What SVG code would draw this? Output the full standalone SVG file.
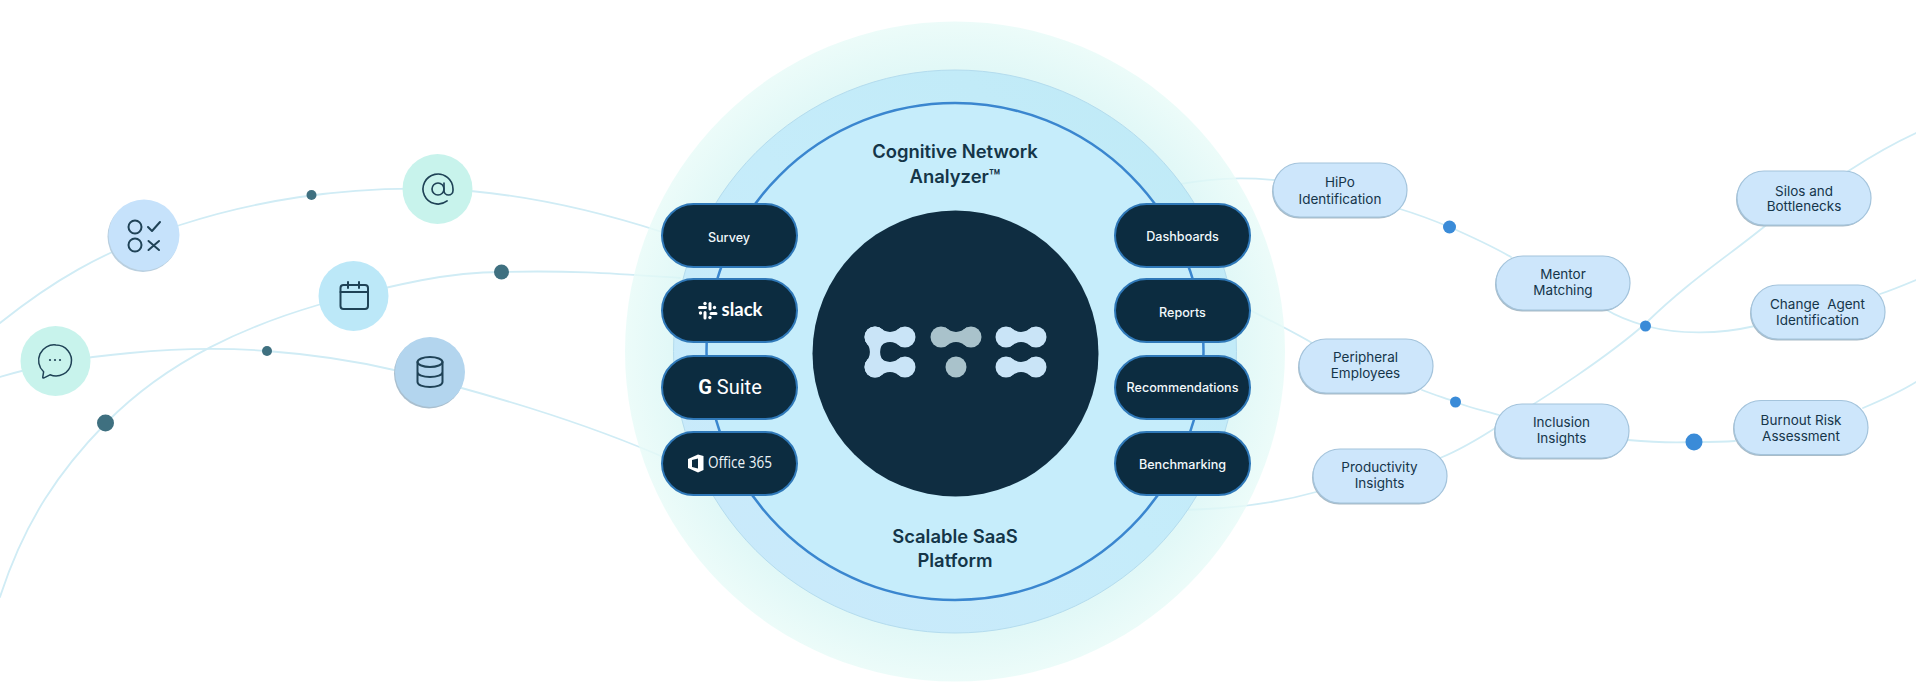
<svg xmlns="http://www.w3.org/2000/svg" width="1916" height="699" viewBox="0 0 1916 699">
<style>
text{font-family:"Inter","Liberation Sans",sans-serif;text-anchor:middle}
.c{fill:none;stroke:#d0ecf5;stroke-width:1.800;stroke-linecap:round}
.dk{fill:#3f7080}
.bl{fill:#3a8bd8}
.ic{fill:none;stroke:#1f4256;stroke-width:2;stroke-linecap:round;stroke-linejoin:round}
.p{fill:#0c2c40;stroke:#2f78b8;stroke-width:2}
.pt{fill:#f2f8fb;font-size:12.6px;font-weight:500}
.n{fill:#cde6fb;stroke:#a4c4dc;stroke-width:1.200}
.ns{fill:#a9bcc8}
.nt{fill:#15354a;font-size:13.500px}
.h{fill:#143548;font-size:18.400px;font-weight:600}
</style>
<defs>
<linearGradient id="mid" x1="0" y1="1" x2="1" y2="0"><stop offset="0" stop-color="#cbe9fb"/><stop offset=".5" stop-color="#c5ecfa"/><stop offset="1" stop-color="#bfeaf6"/></linearGradient>
<radialGradient id="out" cx=".5" cy=".5" r=".5"><stop offset=".85" stop-color="#daf6f5"/><stop offset="1" stop-color="#e8fbf8"/></radialGradient>
<g id="blob"><circle cx="0" cy="0" r="10.500"/><circle cx="30" cy="0" r="10.500"/><path d="M4,-9.700Q15,-.5 26,-9.700L26,9.700Q15,.5 4,9.700Z"/></g>
<rect id="pill" width="135" height="63" rx="31.500"/>
<rect id="node" width="134" height="54" rx="27"/>
</defs>

<g id="connectors">
<path class="c" d="M0,323C50,283 100,252 180,225C250,202 340,186 437,189C520,192 600,212 662,232"/>
<path class="c" d="M0,597C25,520 60,470 106,423C170,358 250,325 318,305C400,283 450,272 502,272C570,270 620,274 680,278"/>
<path class="c" d="M0,377C30,368 70,358 130,353C180,348 230,348 267,351C320,355 360,362 394,370C480,392 580,420 670,460"/>
<path class="c" d="M1170,186C1210,178 1240,177 1274,180"/>
<path class="c" d="M1400,209C1420,215 1435,221 1449.500,227C1470,236 1490,245 1511,257"/>
<path class="c" d="M1605,309C1618,317 1632,322 1646,326C1680,335 1720,334 1755,326"/>
<path class="c" d="M1440,458C1460,450 1480,438 1500,425C1545,398 1610,355 1646,323C1690,280 1730,255 1770,222C1800,200 1825,186 1850,170C1870,157 1890,145 1916,133"/>
<path class="c" d="M1170,510C1220,510 1270,505 1316,492"/>
<path class="c" d="M1240,305C1265,318 1290,330 1312,343"/>
<path class="c" d="M1422,390C1434,395 1445,398 1455.600,402C1470,408 1485,411 1499,415"/>
<path class="c" d="M1628,440C1650,442 1672,443 1694,442C1710,442 1722,442 1735,441"/>
<path class="c" d="M1880,294C1892,290 1904,285 1916,280"/>
<path class="c" d="M1863,408C1882,400 1900,392 1916,382"/>
</g>

<g id="platform">
<circle cx="955" cy="351.500" r="330" fill="url(#out)" fill-opacity=".82"/>
<circle cx="955" cy="351.500" r="281.500" fill="url(#mid)" stroke="#b4dcee" stroke-width="1"/>
<circle cx="955" cy="351.500" r="248.500" fill="#c6edfb" stroke="#3a86cf" stroke-width="2.500"/>
<text class="h" x="955" y="158">Cognitive Network</text>
<text class="h" x="955" y="183">Analyzer™</text>
<text class="h" x="955" y="543">Scalable SaaS</text>
<text class="h" x="955" y="567">Platform</text>
</g>

<g id="core">
<circle cx="955.500" cy="353.500" r="143" fill="#0f2d41"/>
<g fill="#c9e4f7">
<use href="#blob" x="875" y="337"/><use href="#blob" x="875" y="367"/>
<use href="#blob" transform="translate(875 337) rotate(90)"/>
<use href="#blob" x="1006" y="337"/><use href="#blob" x="1006" y="367"/>
</g>
<g fill="#a9c2cb"><use href="#blob" x="941" y="337"/><circle cx="956" cy="367" r="10.500"/></g>
</g>

<g id="source-survey"><use href="#pill" class="p" x="662" y="204"/><text class="pt" x="729" y="241.500">Survey</text></g>
<g id="source-slack"><use href="#pill" class="p" x="662" y="279"/>
<g fill="none" stroke="#fff" stroke-width="3" stroke-linecap="round"><path d="M699.500,307.500H705.500M710,303.500V309M711,313.500H716M705,312.500V318"/></g>
<g fill="#fff"><circle cx="705" cy="303.500" r="1.700"/><circle cx="714.500" cy="307.500" r="1.700"/><circle cx="710" cy="317.500" r="1.700"/><circle cx="700.500" cy="313" r="1.700"/></g>
<text x="742" y="316" fill="#fff" font-size="18.500" font-weight="700" style="font-family:'Lato','Liberation Sans',sans-serif">slack</text></g>
<g id="source-gsuite"><use href="#pill" class="p" x="662" y="356"/><text x="730" y="393.500" fill="#fff" font-size="20" style="font-family:'Roboto','Liberation Sans',sans-serif"><tspan font-weight="700">G</tspan> Suite</text></g>
<g id="source-office"><use href="#pill" class="p" x="662" y="432"/>
<path d="M688,459L698,454.500L703.500,456V470L698,472.500L688,468ZM692,460V467L698,468.500V458.500Z" fill="#fff" fill-rule="evenodd"/>
<text x="740" y="468" fill="#eef5f9" font-size="16" textLength="64" lengthAdjust="spacingAndGlyphs" style="font-family:'Open Sans','Liberation Sans',sans-serif">Office 365</text></g>

<g id="out-dashboards"><use href="#pill" class="p" x="1115" y="204"/><text class="pt" x="1182.500" y="241">Dashboards</text></g>
<g id="out-reports"><use href="#pill" class="p" x="1115" y="279"/><text class="pt" x="1182.500" y="316.500">Reports</text></g>
<g id="out-recommendations"><use href="#pill" class="p" x="1115" y="356"/><text class="pt" x="1182.500" y="392">Recommendations</text></g>
<g id="out-benchmarking"><use href="#pill" class="p" x="1115" y="432"/><text class="pt" x="1182.500" y="468.500">Benchmarking</text></g>

<g id="icon-checklist"><circle cx="143" cy="236.500" r="35.500" fill="#b9cfdf"/><circle cx="144" cy="235" r="35.500" fill="#c6e2fb"/>
<circle class="ic" cx="135" cy="227" r="6.500"/><circle class="ic" cx="135" cy="245" r="6.500"/>
<path class="ic" d="M148,227L152,231L160,222M148.500,241L159,250M159,241L148.500,250"/></g>
<g id="icon-at"><circle cx="437.500" cy="189" r="35" fill="#c8f3ec"/>
<g transform="translate(420 171) scale(1.500)"><circle class="ic" cx="12" cy="12" r="4" style="stroke-width:1.100"/><path class="ic" style="stroke-width:1.100" d="M16,8v5a3,3 0 0 0 6,0v-1a10,10 0 1 0-3.920,7.940"/></g></g>
<g id="icon-calendar"><circle cx="353.500" cy="296" r="35" fill="#bce8f8"/>
<rect class="ic" x="340.500" y="285" width="27.500" height="24" rx="3"/><path class="ic" d="M340.500,292H368M348,282V288M359,282V288"/></g>
<g id="icon-chat"><circle cx="55.500" cy="361" r="35" fill="#c8f3ec"/>
<path class="ic" style="stroke-width:1.500" d="M56,345a15.500,15.500 0 1 1 -6,29.800l-6,3q-1.500,.5 -1.200,-1l.8,-5A15.500,15.500 0 0 1 56,345Z"/>
<circle cx="50" cy="360" r="1.100" fill="#1f4256"/><circle cx="55" cy="360" r="1.100" fill="#1f4256"/><circle cx="60" cy="360" r="1.100" fill="#1f4256"/></g>
<g id="icon-database"><circle cx="429" cy="373.500" r="35" fill="#a9bfcf"/><circle cx="430" cy="372" r="35" fill="#b3d5ee"/>
<ellipse class="ic" cx="430" cy="362" rx="12.500" ry="5"/><path class="ic" d="M417.500,362V382C417.500,385 423,387 430,387C437,387 442.500,385 442.500,382V362M417.500,372C417.500,375 423,377 430,377C437,377 442.500,375 442.500,372"/></g>

<g id="dots-left"><circle class="dk" cx="311.500" cy="195" r="5"/><circle class="dk" cx="501.500" cy="272" r="7.500"/><circle class="dk" cx="267" cy="351" r="5"/><circle class="dk" cx="105.500" cy="423" r="8.500"/></g>
<g id="dots-right"><circle class="bl" cx="1449.500" cy="227" r="6.500"/><circle class="bl" cx="1645.500" cy="326" r="5.500"/><circle class="bl" cx="1455.500" cy="402" r="5.500"/><circle class="bl" cx="1694" cy="442" r="8.500"/></g>

<g id="node-hipo"><use href="#node" class="ns" x="1272" y="164.500"/><use href="#node" class="n" x="1273" y="163"/><text class="nt" x="1340" y="187">HiPo</text><text class="nt" x="1340" y="204">Identification</text></g>
<g id="node-mentor"><use href="#node" class="ns" x="1495" y="257.500"/><use href="#node" class="n" x="1496" y="256"/><text class="nt" x="1563" y="279">Mentor</text><text class="nt" x="1563" y="295">Matching</text></g>
<g id="node-silos"><use href="#node" class="ns" x="1736" y="172.500"/><use href="#node" class="n" x="1737" y="171"/><text class="nt" x="1804" y="196">Silos and</text><text class="nt" x="1804" y="211">Bottlenecks</text></g>
<g id="node-change"><use href="#node" class="ns" x="1750" y="286.500"/><use href="#node" class="n" x="1751" y="285"/><text class="nt" x="1817.500" y="309" xml:space="preserve">Change  Agent</text><text class="nt" x="1817.500" y="325">Identification</text></g>
<g id="node-burnout"><use href="#node" class="ns" x="1733" y="402"/><use href="#node" class="n" x="1734" y="400.500"/><text class="nt" x="1801" y="425">Burnout Risk</text><text class="nt" x="1801" y="441">Assessment</text></g>
<g id="node-peripheral"><use href="#node" class="ns" x="1298" y="340.500"/><use href="#node" class="n" x="1299" y="339"/><text class="nt" x="1365.500" y="362">Peripheral</text><text class="nt" x="1365.500" y="378">Employees</text></g>
<g id="node-inclusion"><use href="#node" class="ns" x="1494" y="405.500"/><use href="#node" class="n" x="1495" y="404"/><text class="nt" x="1561.500" y="427">Inclusion</text><text class="nt" x="1561.500" y="443">Insights</text></g>
<g id="node-productivity"><use href="#node" class="ns" x="1312" y="450.500"/><use href="#node" class="n" x="1313" y="449"/><text class="nt" x="1379.500" y="472">Productivity</text><text class="nt" x="1379.500" y="488">Insights</text></g>
</svg>
